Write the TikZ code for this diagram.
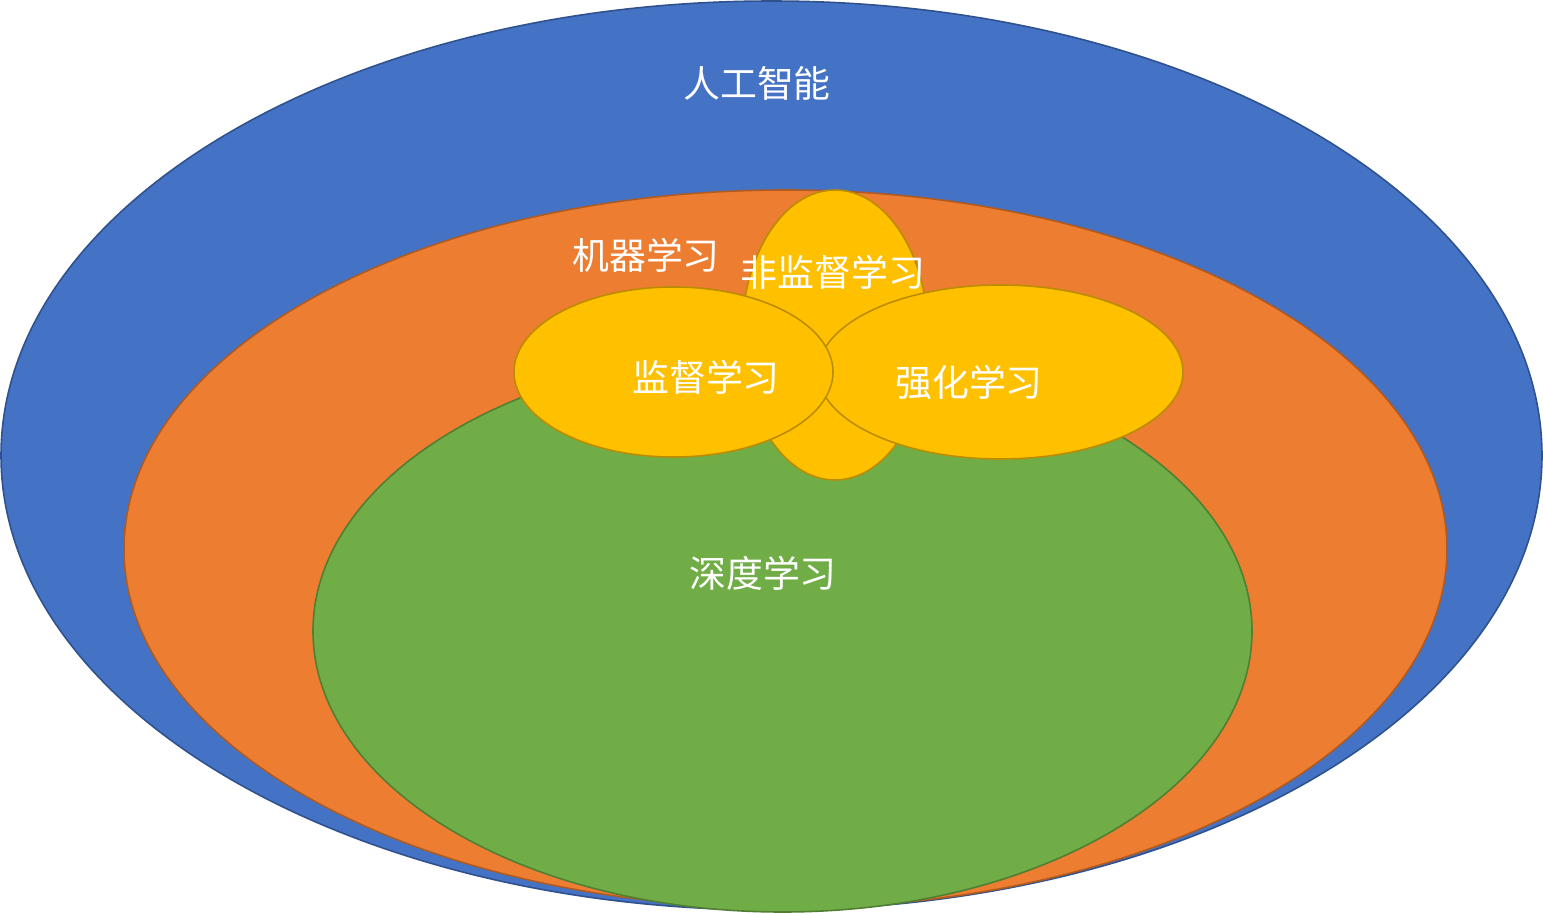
\documentclass[tikz,border=0pt]{standalone}
\usepackage{fontspec}
\newfontfamily\cjk{Noto Sans CJK SC}
\usetikzlibrary{shapes.geometric}
\definecolor{bleu}{HTML}{4472C4}
\definecolor{bleuBord}{HTML}{2F528F}
\definecolor{orange}{HTML}{ED7D31}
\definecolor{orangeBord}{HTML}{AE5A21}
\definecolor{vert}{HTML}{70AD47}
\definecolor{vertBord}{HTML}{507E32}
\definecolor{jaune}{HTML}{FFC000}
\definecolor{jauneBord}{HTML}{BC8C00}
\begin{document}
\begin{tikzpicture}[x=0.02cm,y=-0.02cm]
	% Styles
	\tikzstyle{zone}=[ellipse,inner sep=0pt,outer sep=0pt,line width=0.9pt]
	\tikzstyle{etiquette}=[white,inner sep=0pt,font=\cjk\fontsize{21}{25}\selectfont]
	% Dimensions
	\def\Unite{0.02cm}
	\useasboundingbox (0,0) rectangle (1543,913);
	% Ensembles
	\node[zone,fill=bleu,draw=bleuBord,minimum width=1541*\Unite,minimum height=909*\Unite] (IA) at (771.5,455.5) {};
	\node[zone,fill=orange,draw=orangeBord,minimum width=1323*\Unite,minimum height=718*\Unite] (ML) at (785.5,549) {};
	\node[zone,fill=vert,draw=vertBord,minimum width=939*\Unite,minimum height=562*\Unite] (DL) at (782.5,631) {};
	\node[zone,fill=jaune,draw=jauneBord,minimum width=186*\Unite,minimum height=290*\Unite] (NS) at (835,335) {};
	\node[zone,fill=jaune,draw=jauneBord,minimum width=365*\Unite,minimum height=174*\Unite] (RL) at (1000.5,372) {};
	\node[zone,fill=jaune,draw=jauneBord,minimum width=319*\Unite,minimum height=170*\Unite] (SL) at (673.5,372) {};
	% Textes
	\node[etiquette] (tIA) at (757,83) {人工智能};
	\node[etiquette] (tML) at (646,255) {机器学习};
	\node[etiquette] (tNS) at (833,272) {非监督学习};
	\node[etiquette] (tSL) at (706,377) {监督学习};
	\node[etiquette] (tRL) at (969,382) {强化学习};
	\node[etiquette] (tDL) at (763,573) {深度学习};
\end{tikzpicture}
\end{document}
